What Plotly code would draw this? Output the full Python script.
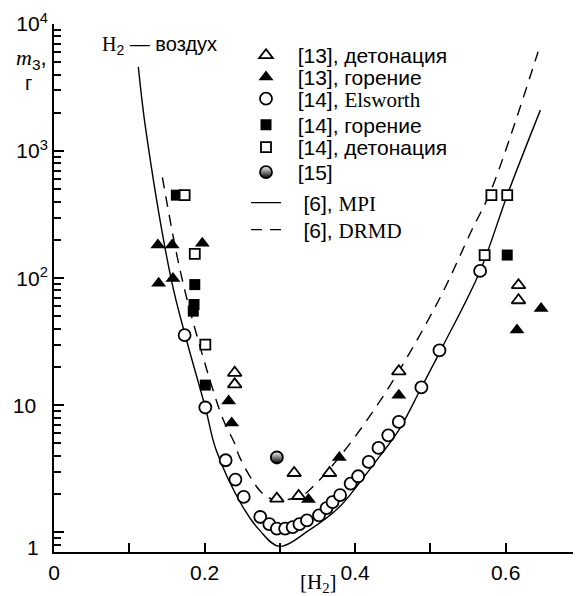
import plotly.graph_objects as go

# ---------------- data ----------------
det13_x = [0.240, 0.240, 0.296, 0.319, 0.325, 0.366, 0.458, 0.617, 0.617]
det13_y = [18.0, 14.6, 1.84, 2.93, 1.93, 2.93, 18.5, 88, 67]

gor13_x = [0.138, 0.157, 0.197, 0.139, 0.158, 0.232, 0.236, 0.338, 0.379, 0.458, 0.647, 0.615]
gor13_y = [182, 182, 188, 91, 99.5, 10.8, 7.25, 1.81, 3.88, 12.0, 57.7, 39]

els14_x = [0.1735, 0.201, 0.228, 0.241, 0.252, 0.274, 0.286, 0.296, 0.307, 0.317, 0.326,
           0.336, 0.352, 0.362, 0.370, 0.380, 0.394, 0.404, 0.418, 0.431, 0.444, 0.458,
           0.488, 0.512, 0.566]
els14_y = [35.6, 9.6, 3.69, 2.60, 1.90, 1.32, 1.16, 1.07, 1.07, 1.10, 1.16,
           1.24, 1.36, 1.55, 1.73, 1.96, 2.42, 2.76, 3.58, 4.61, 5.80, 7.39,
           13.8, 27, 114]

gor14_x = [0.1625, 0.187, 0.186, 0.185, 0.201, 0.602]
gor14_y = [450, 89, 62, 55, 14.4, 152]

det14_x = [0.1735, 0.187, 0.201, 0.572, 0.581, 0.602]
det14_y = [450, 155, 30, 152, 450, 450]

ref15_x = [0.296]
ref15_y = [3.88]

mpi_x = [0.112, 0.122, 0.156, 0.174, 0.201, 0.2155, 0.251, 0.273, 0.299, 0.339, 0.379,
         0.405, 0.432, 0.458, 0.488, 0.516, 0.566, 0.602, 0.646]
mpi_y = [4600, 1460, 96, 36, 9.6, 4.42, 1.58, 1.04, 0.776, 1.04, 1.58,
         2.42, 3.92, 6.36, 13.8, 28.8, 114, 450, 2100]

drmd_x = [0.144, 0.167, 0.189, 0.224, 0.240, 0.2464, 0.273, 0.288, 0.326, 0.348, 0.388,
          0.445, 0.511, 0.555, 0.581, 0.643]
drmd_y = [620, 119, 36.7, 7.9, 5.0, 3.92, 2.14, 1.84, 1.90, 2.42, 4.56,
          13.9, 67, 239, 500, 6050]

x_tickvals = [0, 0.1, 0.2, 0.3, 0.4, 0.5, 0.6]
x_ticktext = ["0", "", "0.2", "", "0.4", "", "0.6"]
y_tickvals = [1, 10, 100, 1000, 10000]
NB = "\u00a0"
y_ticktext = ["", "10" + NB * 2, "10<sup>2</sup>", "10<sup>3</sup>", "10<sup>4</sup>"]

SERIF = "Liberation Serif"
SANS = "Liberation Sans"


def serif(t):
    return f"<span style='font-family:{SERIF}'>{t}</span>"


names = [
    NB * 2 + "[13], детонация",
    NB * 2 + "[13], горение",
    NB * 2 + "[14], " + serif("Elsworth"),
    NB * 2 + "[14], горение",
    NB * 2 + "[14], детонация",
    NB * 2 + "[15]",
    NB * 3 + "[6], " + serif("MPI"),
    NB * 3 + "[6], " + serif("DRMD"),
]
row_py = [55.5, 77.3, 99, 125, 147.5, 172.5, 203, 230]

fig = go.Figure()

fig.add_trace(go.Scatter(x=mpi_x, y=mpi_y, mode="lines", name=names[6], legend="legend7",
                         line=dict(color="black", width=1.4, shape="spline")))
fig.add_trace(go.Scatter(x=drmd_x, y=drmd_y, mode="lines", name=names[7], legend="legend8",
                         line=dict(color="black", width=1.4, shape="spline", dash="11px,8px")))

OL = dict(color="black", width=1.8)
fig.add_trace(go.Scatter(x=det13_x, y=det13_y, mode="markers", name=names[0], legend="legend",
                         marker=dict(symbol="triangle-up", size=12, color="white", line=OL)))
fig.add_trace(go.Scatter(x=gor13_x, y=gor13_y, mode="markers", name=names[1], legend="legend2",
                         marker=dict(symbol="triangle-up", size=13, color="black", line=dict(width=0))))
fig.add_trace(go.Scatter(x=els14_x, y=els14_y, mode="markers", name=names[2], legend="legend3",
                         marker=dict(symbol="circle", size=12, color="white", line=OL)))
fig.add_trace(go.Scatter(x=gor14_x, y=gor14_y, mode="markers", name=names[3], legend="legend4",
                         marker=dict(symbol="square", size=11, color="black", line=dict(width=0))))
fig.add_trace(go.Scatter(x=det14_x, y=det14_y, mode="markers", name=names[4], legend="legend5",
                         marker=dict(symbol="square", size=10, color="white", line=OL)))
fig.add_trace(go.Scatter(x=ref15_x, y=ref15_y, mode="markers", name=names[5], legend="legend6",
                         marker=dict(symbol="circle", size=12, color="white", line=OL,
                                     gradient=dict(type="vertical", color="black"))))

# plot area in reference pixels: x 54..581, y 24..552 (page has an 8px body margin)
def py2paper(py):
    return (552 - py) / 528


def px2paper(px):
    return (px - 54) / 527


legend_keys = ["legend", "legend2", "legend3", "legend4", "legend5", "legend6", "legend7", "legend8"]
layout_legends = {}
for k, py in zip(legend_keys, row_py):
    layout_legends[k] = dict(x=px2paper(246), xanchor="left", y=py2paper(py), yanchor="middle",
                             bgcolor="rgba(0,0,0,0)", borderwidth=0, itemwidth=30,
                             font=dict(family=SANS, size=21, color="black"))

fig.update_layout(
    width=573, height=588,
    margin=dict(l=46, r=0, t=16, b=44),
    plot_bgcolor="white", paper_bgcolor="white",
    font=dict(family=SANS, size=21, color="black"),
    showlegend=True,
    **layout_legends,
)

fig.update_xaxes(
    range=[0, 0.7], showgrid=False, zeroline=False,
    showline=True, linecolor="black", linewidth=2,
    ticks="inside", ticklen=9, tickwidth=2, tickcolor="black",
    tickmode="array", tickvals=x_tickvals, ticktext=x_ticktext,
    ticklabelstandoff=1,
)

minor_vals = [m * 10 ** e for e in range(-1, 4) for m in range(2, 10) if m * 10 ** e >= 0.75]
fig.update_yaxes(
    type="log", range=[-0.155, 4], showgrid=False, zeroline=False,
    showline=True, linecolor="black", linewidth=2,
    ticks="inside", ticklen=10, tickwidth=2, tickcolor="black",
    tickmode="array", tickvals=y_tickvals, ticktext=y_ticktext,
    ticklabelstandoff=0,
    minor=dict(ticks="inside", ticklen=7, tickwidth=2, tickcolor="black",
               tickmode="array", tickvals=minor_vals, showgrid=False),
)

ann = [
    dict(text=serif("H") + "<sub>2</sub> — воздух", x=px2paper(159), y=py2paper(45),
         font=dict(size=20)),
    dict(text=serif("<i>m</i>") + "<sub>3</sub>,", x=px2paper(31), y=py2paper(59),
         font=dict(size=22)),
    dict(text="г", x=px2paper(28), y=py2paper(83), font=dict(size=20)),
    dict(text="1", x=px2paper(41), y=py2paper(547), xanchor="right", font=dict(size=21)),
    dict(text=serif("[H<sub>2</sub>]"), x=px2paper(318), y=py2paper(583), font=dict(size=21)),
]
for a in ann:
    a.setdefault("xanchor", "center")
    fig.add_annotation(xref="paper", yref="paper", showarrow=False, yanchor="middle", **a)

fig.write_html("out.html")
